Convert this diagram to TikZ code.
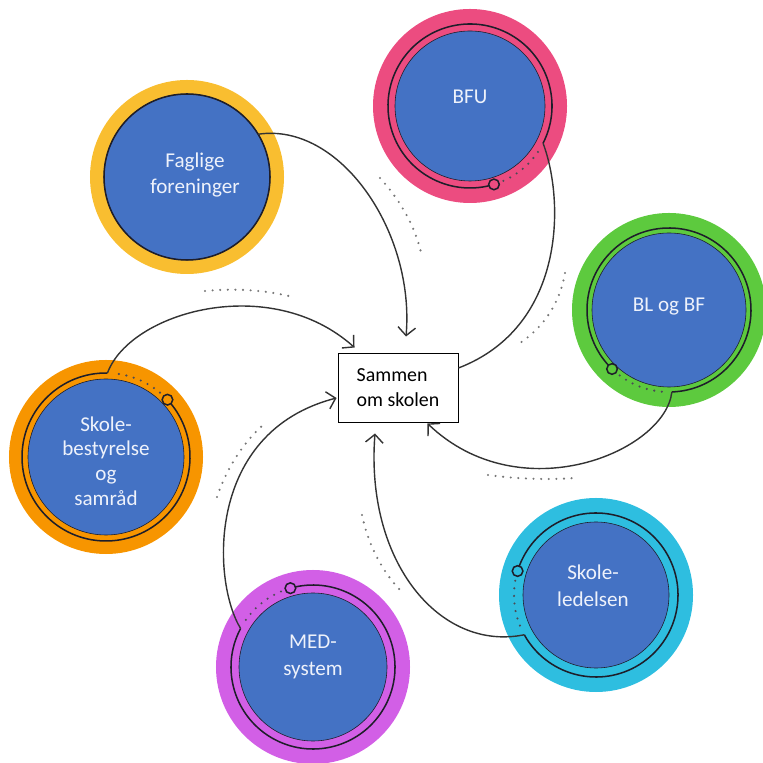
\documentclass[tikz,border=0pt]{standalone}
\usepackage{fontspec}
\setmainfont{Carlito}
\usetikzlibrary{arrows.meta,calc}
\definecolor{discblue}{HTML}{4472C4}
\definecolor{bfupink}{HTML}{EC4C80}
\definecolor{fagyellow}{HTML}{F9BE30}
\definecolor{blgreen}{HTML}{5DCA3E}
\definecolor{sborange}{HTML}{F79500}
\definecolor{sklcyan}{HTML}{2EBEE0}
\definecolor{medviolet}{HTML}{D25FE6}
\definecolor{ringdark}{HTML}{1E1E2A}
\definecolor{linegray}{HTML}{333333}
\definecolor{dotgray}{HTML}{777777}
\definecolor{txtwhite}{HTML}{EEF2FB}

\tikzset{
  outer/.style={circle, fill=#1, minimum size=5.82cm, inner sep=0pt},
  disc/.style={circle, fill=discblue, draw=ringdark, line width=0.5pt, minimum size=#1, inner sep=0pt},
  txt/.style={text=txtwhite, font=\fontsize{18}{23}\selectfont, align=center},
  ring/.style={draw=ringdark, line width=1.3pt},
  knob/.style={circle, draw=ringdark, line width=1.3pt, fill=#1, minimum size=0.32cm, inner sep=0pt},
  trail/.style={dotgray, line width=2pt, line cap=round, dash pattern=on 0pt off 6.5pt},
  ringtrail/.style={trail, ringdark!80},
  link/.style={draw=linegray, line width=1.2pt},
  arr/.style={link, -{Straight Barb[length=7pt,width=15pt]}},
}

\begin{document}
\begin{tikzpicture}[x=0.03cm, y=0.03cm]
\useasboundingbox (0,0) rectangle (763,762);

% the six circles
\node[outer=fagyellow] (fag) at (187,585) {};
\node[outer=bfupink] (bfu) at (470,656) {};
\node[outer=blgreen] (blbf) at (669,452) {};
\node[outer=sklcyan] (skl) at (596,167) {};
\node[outer=medviolet] (med) at (313,95) {};
\node[outer=sborange] (sb) at (106,305) {};

\node[disc=4.98cm] (fag-d) at (fag) {};
\node[disc=4.5cm] (bfu-d) at (bfu) {};
\node[disc=4.62cm] (blbf-d) at (blbf) {};
\node[disc=4.38cm] (skl-d) at (skl) {};
\node[disc=4.44cm] (med-d) at (med) {};
\node[disc=4.68cm] (sb-d) at (sb) {};

% rings, knobs and dotted trails
\draw[ring] (fag) circle[radius=83];
\draw[ring] (bfu.center) ++(-27:82) arc[start angle=-27, end angle=287, radius=82];
\draw[ring] (blbf.center) ++(-88:82) arc[start angle=-88, end angle=226, radius=82];
\draw[ring] (skl.center) ++(209:82) arc[start angle=209, end angle=523, radius=82];
\draw[ring] (med.center) ++(152:82) arc[start angle=152, end angle=466, radius=82];
\draw[ring] (sb.center) ++(89:84) arc[start angle=89, end angle=403, radius=84];

\draw[ringtrail] (bfu.center) ++(-66:82) arc[start angle=-66, end angle=-30, radius=82];
\draw[ringtrail] (blbf.center) ++(-127:82) arc[start angle=-127, end angle=-91, radius=82];
\draw[ringtrail] (skl.center) ++(170:82) arc[start angle=170, end angle=206, radius=82];
\draw[ringtrail] (med.center) ++(113:82) arc[start angle=113, end angle=149, radius=82];
\draw[ringtrail] (sb.center) ++(50:84) arc[start angle=50, end angle=86, radius=84];

\node[knob=bfupink] (bfu-k) at ($(bfu)+(-73:82)$) {};
\node[knob=blgreen] (blbf-k) at ($(blbf)+(-134:82)$) {};
\node[knob=sklcyan] (skl-k) at ($(skl)+(163:82)$) {};
\node[knob=medviolet] (med-k) at ($(med)+(106:82)$) {};
\node[knob=sborange] (sb-k) at ($(sb)+(43:84)$) {};

\coordinate (fag-out) at ($(fag)+(31:83)$);
\coordinate (bfu-out) at ($(bfu)+(-27:82)$);
\coordinate (blbf-out) at ($(blbf)+(-88:82)$);
\coordinate (skl-out) at ($(skl)+(209:82)$);
\coordinate (med-out) at ($(med)+(152:82)$);
\coordinate (sb-out) at ($(sb)+(89:84)$);

% labels
\node[txt] (fag-t) at (195,587) {Faglige\\foreninger};
\node[txt] (bfu-t) at (470,665) {BFU};
\node[txt] (blbf-t) at (669,455) {BL og BF};
\node[txt] (skl-t) at (593,176) {Skole-\\ledelsen};
\node[txt] (med-t) at (313,105) {MED-\\system};
\node[txt, font=\fontsize{18}{21}\selectfont] (sb-t) at (106,301) {Skole-\\bestyrelse\\og\\samråd};

\node[draw=black, fill=white, line width=0.8pt, minimum width=3.6cm, minimum height=2.07cm,
      align=left, font=\fontsize{17}{21}\selectfont] (sammen) at (398,374.5) {Sammen\\om skolen};

% connectors
\draw[arr] (fag-out) .. controls (340,640) and (415,530) .. ($(sammen.north)+(8,16)$);
\draw[link] (bfu-out) .. controls (565,560) and (565,435) .. ($(sammen.east)+(0,19.5)$);
\draw[arr] (blbf-out) .. controls (665,310) and (520,250) .. ($(sammen.south east)+(-31,-1)$);
\draw[arr] (skl-out) .. controls (440,110) and (365,200) .. ($(sammen.south)+(-23,-11)$);
\draw[arr] (med-out) .. controls (212,180) and (205,330) .. ($(sammen.west)+(-1,-10.5)$);
\draw[arr] (sb-out) .. controls (130,450) and (270,490) .. ($(sammen.north west)+(17,5)$);

\draw[trail] (380,584) .. controls (400,562) and (416,535) .. (422,505);
\draw[trail] (565,489) .. controls (560,460) and (545,435) .. (517,417);
\draw[trail] (488,287) .. controls (518,283) and (548,282) .. (575,284);
\draw[trail] (362,247) .. controls (368,218) and (382,190) .. (402,170);
\draw[trail] (217,265) .. controls (226,292) and (242,318) .. (263,337);
\draw[trail] (205,471) .. controls (235,474) and (265,472) .. (293,465);
\end{tikzpicture}
\end{document}
